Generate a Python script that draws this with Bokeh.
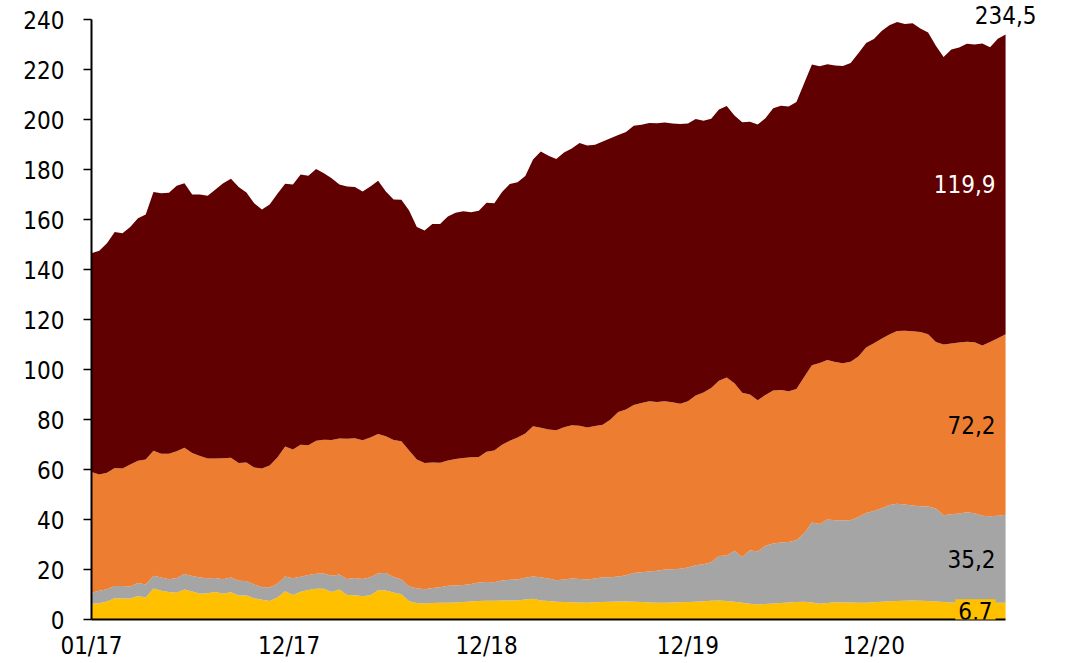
from bokeh.plotting import figure
from bokeh.models import ColumnDataSource, Range1d, FixedTicker, Label
from bokeh.embed import file_html
from bokeh.resources import INLINE

# weekly observations (every second week), week 0 = first week of Jan 2017
weeks = list(range(0, 237, 2))

gold = [6.3, 6.5, 7.2, 8.5, 8.4, 8.4, 9.4, 8.8, 12.4, 11.5,
        11.0, 10.7, 12.0, 11.2, 10.3, 10.5, 11.0, 10.3, 10.9, 9.6,
        9.6, 8.5, 7.9, 7.4, 8.8, 11.3, 9.8, 11.1, 11.8, 12.3,
        12.3, 11.0, 12.0, 9.8, 9.7, 9.3, 9.7, 11.7, 11.6, 10.8,
        10.1, 7.3, 6.6, 6.4, 6.6, 6.7, 6.7, 6.8, 7.0, 7.2,
        7.4, 7.5, 7.5, 7.6, 7.6, 7.6, 8.0, 8.3, 7.6, 7.4,
        7.1, 7.0, 6.9, 6.8, 6.7, 6.9, 7.0, 7.1, 7.2, 7.2,
        7.1, 7.0, 6.8, 6.7, 6.7, 6.8, 6.9, 7.0, 7.1, 7.3,
        7.5, 7.6, 7.4, 7.1, 6.7, 6.3, 6.0, 6.2, 6.4, 6.6,
        6.8, 7.0, 7.1, 6.8, 6.3, 6.6, 6.9, 6.8, 6.8, 6.7,
        6.7, 6.9, 7.1, 7.3, 7.4, 7.5, 7.6, 7.5, 7.4, 7.2,
        7.0, 6.8, 6.7, 6.7, 6.7, 6.6, 6.6, 6.7, 6.7]

grey = [4.4, 5.0, 4.9, 4.9, 5.0, 4.8, 5.2, 5.2, 5.1, 5.3,
        5.1, 5.9, 6.2, 6.2, 6.5, 6.0, 5.6, 5.8, 5.9, 5.9,
        5.8, 5.5, 5.0, 5.5, 5.5, 5.9, 6.7, 6.0, 6.0, 6.0,
        6.1, 6.5, 6.0, 6.4, 6.9, 6.9, 7.2, 6.8, 7.0, 6.2,
        6.0, 5.9, 5.9, 5.7, 6.0, 6.2, 6.8, 6.8, 6.8, 7.0,
        7.4, 7.5, 7.4, 8.0, 8.3, 8.4, 8.7, 8.9, 9.3, 9.0,
        8.6, 9.0, 9.5, 9.4, 9.3, 9.5, 9.9, 9.8, 10.0, 10.5,
        11.5, 11.9, 12.4, 12.8, 13.3, 13.3, 13.4, 13.8, 14.6, 14.8,
        15.4, 17.8, 18.2, 20.4, 18.3, 21.4, 21.2, 23.3, 24.0, 24.2,
        24.2, 24.7, 27.4, 32.0, 31.9, 33.4, 32.8, 32.9, 32.9, 34.3,
        35.9, 36.5, 37.4, 38.5, 38.9, 38.5, 38.0, 37.8, 37.8, 37.2,
        34.7, 35.3, 35.7, 36.2, 35.8, 34.9, 34.7, 34.8, 35.2]

orange = [48.3, 46.5, 46.6, 47.2, 47.0, 48.8, 48.9, 50.0, 50.0, 49.5,
          50.2, 50.7, 50.5, 49.2, 48.6, 47.9, 47.8, 48.4, 47.9, 47.1,
          47.4, 46.8, 47.5, 48.7, 50.5, 52.0, 51.5, 52.8, 51.9, 53.2,
          53.5, 54.3, 54.4, 56.1, 55.9, 55.5, 55.9, 55.7, 54.7, 54.8,
          55.2, 54.4, 51.5, 50.5, 50.2, 49.8, 50.1, 50.6, 50.8, 50.7,
          50.2, 52.1, 52.7, 54.3, 55.6, 56.8, 57.7, 60.1, 59.8, 59.6,
          60.0, 60.9, 61.3, 61.3, 60.8, 61.0, 61.0, 63.1, 65.8, 66.3,
          67.2, 67.7, 68.1, 67.5, 67.3, 66.8, 66.0, 66.5, 67.9, 68.7,
          69.7, 70.1, 71.2, 67.0, 65.7, 62.3, 60.5, 60.3, 61.2, 61.0,
          60.3, 60.5, 62.5, 62.9, 64.4, 63.8, 63.3, 62.8, 63.4, 64.2,
          66.2, 67.1, 67.8, 68.2, 69.1, 69.5, 69.7, 69.7, 68.9, 66.6,
          68.3, 68.3, 68.4, 68.2, 68.4, 68.1, 69.7, 71.0, 72.2]

maroon = [87.5, 89.5, 91.8, 94.4, 94.1, 95.0, 97.0, 98.0, 103.5, 104.2,
          104.4, 106.2, 105.8, 103.4, 104.6, 105.1, 107.6, 110.0, 111.6, 110.4,
          108.0, 105.7, 103.6, 104.4, 105.5, 105.1, 106.0, 108.1, 107.8, 108.7,
          106.6, 104.7, 101.6, 100.9, 100.5, 99.5, 100.4, 101.3, 97.9, 96.2,
          96.6, 96.0, 93.0, 93.0, 95.4, 95.5, 97.6, 98.5, 98.7, 98.0,
          98.5, 99.6, 98.9, 101.1, 102.7, 102.1, 103.0, 106.7, 110.5, 109.5,
          108.5, 109.9, 110.7, 113.1, 112.8, 112.5, 113.3, 112.5, 110.8, 111.0,
          111.7, 111.3, 111.3, 111.5, 111.5, 111.5, 111.9, 111.1, 110.6, 108.7,
          107.7, 108.5, 108.6, 107.1, 108.2, 109.1, 110.3, 110.7, 112.9, 113.7,
          113.9, 114.8, 117.5, 120.3, 118.7, 118.3, 118.6, 118.9, 119.5, 121.3,
          121.8, 121.7, 123.1, 123.7, 123.6, 122.7, 123.2, 121.4, 120.7, 118.5,
          115.0, 117.6, 118.0, 119.2, 119.1, 120.8, 117.9, 119.8, 119.9]

series_names = ["gold", "grey", "orange", "maroon"]
series_colors = ["#FFC000", "#A5A5A5", "#ED7D31", "#600000"]
end_labels = ["6,7", "35,2", "72,2", "119,9"]
end_label_colors = ["black", "black", "black", "white"]
total_label = "234,5"

tick_weeks = [0, 51, 102, 154, 202]
tick_labels = ["01/17", "12/17", "12/18", "12/19", "12/20"]
y_ticks = list(range(0, 241, 20))

FONT = "DejaVu Sans Condensed"

source = ColumnDataSource(dict(week=weeks, gold=gold, grey=grey,
                               orange=orange, maroon=maroon))

# frame: x 91..1050 px, y 0..619 px; data spans week 0..236 -> 91..1005 px
p = figure(width=1081, height=663, output_backend="svg", toolbar_location=None,
           x_range=Range1d(0, 247.6), y_range=Range1d(0, 247.6),
           min_border_left=91, min_border_right=31, min_border_top=0,
           min_border_bottom=44)
p.outline_line_color = None
p.grid.visible = False
p.background_fill_color = "white"
p.border_fill_color = "white"

p.varea_stack(stackers=series_names, x="week", color=series_colors, source=source)

# y axis
p.yaxis.bounds = (0, 240)
p.yaxis.ticker = FixedTicker(ticks=y_ticks)
p.yaxis.axis_line_width = 2
p.yaxis.axis_line_color = "black"
p.yaxis.major_tick_out = 8
p.yaxis.major_tick_in = 0
p.yaxis.major_tick_line_width = 1.5
p.yaxis.minor_tick_line_color = None
p.yaxis.major_label_standoff = 19
p.yaxis.major_label_text_font = FONT
p.yaxis.major_label_text_font_size = "24px"
p.yaxis.major_label_text_color = "black"

# x axis
p.xaxis.bounds = (0, weeks[-1])
p.xaxis.ticker = FixedTicker(ticks=tick_weeks)
p.xaxis.major_label_overrides = {w: l for w, l in zip(tick_weeks, tick_labels)}
p.xaxis.axis_line_width = 2
p.xaxis.axis_line_color = "black"
p.xaxis.major_tick_out = 0
p.xaxis.major_tick_in = 0
p.xaxis.minor_tick_line_color = None
p.xaxis.major_label_standoff = 12
p.xaxis.major_label_text_font = FONT
p.xaxis.major_label_text_font_size = "24px"
p.xaxis.major_label_text_color = "black"

# end-of-series labels, centred in each band at the last observation
last = len(weeks) - 1
cum = 0.0
for name, txt, col in zip(series_names, end_labels, end_label_colors):
    v = source.data[name][last]
    mid = cum + v / 2.0
    cum += v
    kw = {}
    if name == "gold":
        kw = dict(background_fill_color="#FFC000", padding=3)
    p.add_layout(Label(x=weeks[last], y=mid, x_offset=-10, text=txt,
                       text_align="right", text_baseline="middle",
                       text_font=FONT, text_font_size="24px",
                       text_color=col, **kw))

p.add_layout(Label(x=weeks[last], y=cum, y_offset=20, text=total_label,
                   text_align="center", text_baseline="middle",
                   text_font=FONT, text_font_size="24px", text_color="black"))

open("out.html", "w").write(file_html(p, INLINE))
